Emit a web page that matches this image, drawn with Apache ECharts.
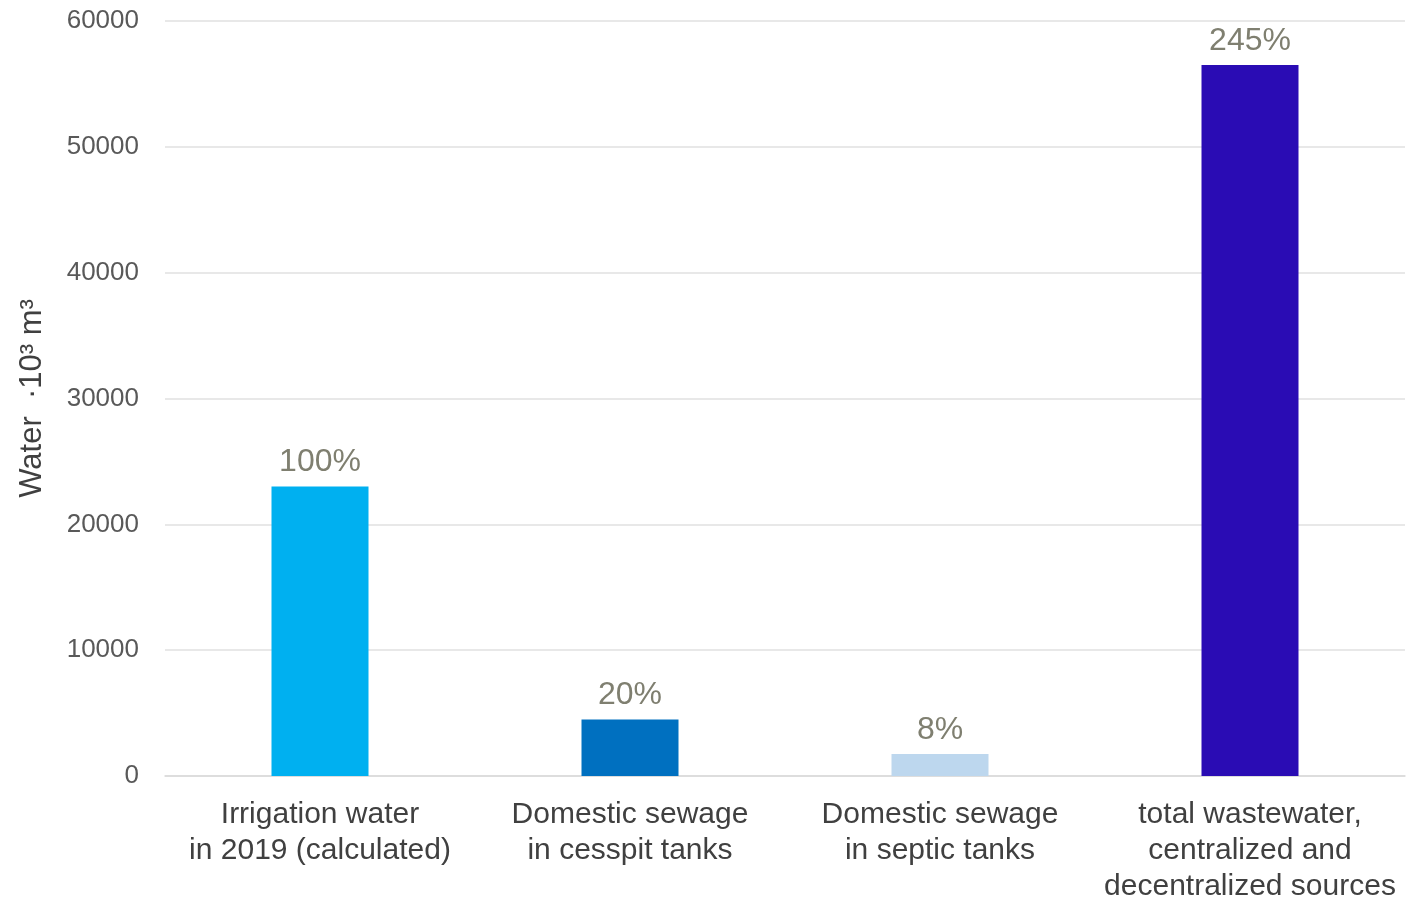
<!DOCTYPE html>
<html>
<head>
<meta charset="utf-8">
<script src="https://cdn.jsdelivr.net/npm/echarts@6/dist/echarts.min.js"></script>
<style>
html,body{margin:0;padding:0;background:#fff;}
#chart{width:1412px;height:899px;}
</style>
</head>
<body>
<div id="chart"></div>
<script>
const categories = [
  "Irrigation water\nin 2019 (calculated)",
  "Domestic sewage\nin cesspit tanks",
  "Domestic sewage\nin septic tanks",
  "total wastewater,\ncentralized and\ndecentralized sources"
];
const values = [23000, 4500, 1750, 56500];
const percentLabels = ["100%", "20%", "8%", "245%"];
const barColors = ["#00B0F0", "#0070C0", "#BDD7EE", "#2A0CB4"];
const yTicks = [0, 10000, 20000, 30000, 40000, 50000, 60000];

const chart = echarts.init(document.getElementById('chart'));
chart.setOption({
  backgroundColor: '#ffffff',
  animation: false,
  grid: { left: 165, right: 7, top: 21, bottom: 123, containLabel: false, outerBoundsMode: 'none' },
  xAxis: {
    type: 'category',
    data: categories,
    axisLine: { show: true, lineStyle: { color: '#D9D9D9', width: 1.5 } },
    axisTick: { show: false },
    axisLabel: {
      color: '#404040',
      fontFamily: 'Liberation Sans, Arial, sans-serif',
      fontSize: 30,
      lineHeight: 36,
      margin: 21,
      interval: 0
    }
  },
  yAxis: {
    type: 'value',
    min: yTicks[0],
    max: yTicks[yTicks.length - 1],
    interval: yTicks[1] - yTicks[0],
    name: 'Water  ·10³ m³',
    nameLocation: 'middle',
    nameGap: 117,
    nameTextStyle: {
      color: '#404040',
      fontFamily: 'Liberation Sans, Arial, sans-serif',
      fontSize: 31
    },
    axisLine: { show: false },
    axisTick: { show: false },
    splitLine: { lineStyle: { color: '#E0E0E0', width: 1.5 } },
    axisLabel: {
      color: '#595959',
      fontFamily: 'Liberation Sans, Arial, sans-serif',
      fontSize: 26,
      margin: 26,
      formatter: v => String(v)
    }
  },
  series: [{
    type: 'bar',
    barWidth: 97,
    data: values.map((v, i) => ({
      value: v,
      itemStyle: { color: barColors[i] },
      label: { formatter: percentLabels[i] }
    })),
    label: {
      show: true,
      position: 'top',
      distance: 8,
      color: '#7F7F70',
      fontFamily: 'Liberation Sans, Arial, sans-serif',
      fontSize: 32
    }
  }]
});
</script>
</body>
</html>
